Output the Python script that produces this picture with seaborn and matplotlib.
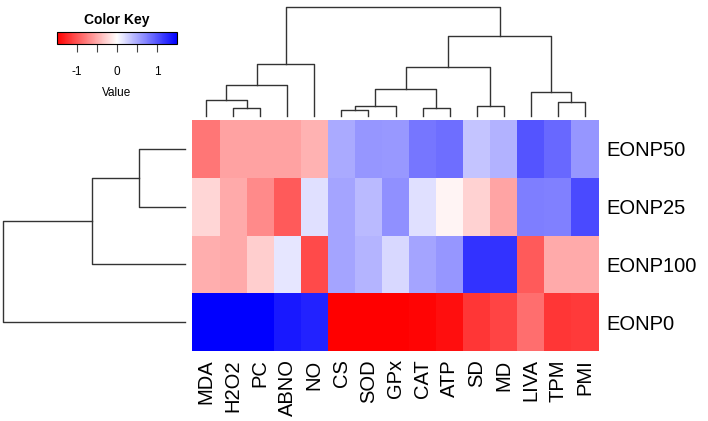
import numpy as np
import pandas as pd
import matplotlib
matplotlib.use('Agg')
import matplotlib.pyplot as plt
import seaborn as sns

plt.rcParams['font.family'] = ['Liberation Sans', 'DejaVu Sans']

# rows / columns in the order shown (after clustering)
samples = ['EONP50', 'EONP25', 'EONP100', 'EONP0']
markers = ['MDA', 'H2O2', 'PC', 'ABNO', 'NO', 'CS', 'SOD', 'GPx', 'CAT', 'ATP',
           'SD', 'MD', 'LIVA', 'TPM', 'PMI']

# column-scaled values
eonp50 = [-0.80, -0.55, -0.55, -0.55, -0.45, 0.50, 0.62, 0.60, 0.80, 0.85,
          0.35, 0.45, 1.00, 0.88, 0.62]
eonp25 = [-0.24, -0.50, -0.68, -0.97, 0.18, 0.53, 0.41, 0.65, 0.18, -0.06,
          -0.26, -0.53, 0.76, 0.74, 1.06]
eonp100 = [-0.47, -0.50, -0.29, 0.15, -1.06, 0.53, 0.44, 0.23, 0.53, 0.62,
           1.20, 1.20, -0.97, -0.50, -0.50]
eonp0 = [1.50, 1.50, 1.50, 1.35, 1.30, -1.50, -1.50, -1.50, -1.47, -1.41,
         -1.18, -1.09, -0.85, -1.18, -1.15]

# dendrogram merges: (node a, node b, height); node ids >= n are earlier merges
col_merges = [(1, 2, 23), (0, 15, 49), (16, 3, 93), (17, 4, 155),
              (5, 6, 18), (19, 7, 30), (8, 9, 25), (20, 21, 80),
              (10, 11, 31), (22, 23, 146), (13, 14, 41), (12, 25, 72),
              (24, 26, 241), (18, 27, 328)]
row_merges = [(0, 1, 138), (4, 2, 279), (5, 3, 546)]

df = pd.DataFrame([eonp50, eonp25, eonp100, eonp0], index=samples, columns=markers)


def draw_dendro(ax, n, merges, vertical=True):
    pos = {i: i + 0.5 for i in range(n)}
    hgt = {i: 0 for i in range(n)}
    for k, (a, b, h) in enumerate(merges):
        xs = [pos[a], pos[a], pos[b], pos[b]]
        ys = [hgt[a], h, h, hgt[b]]
        if vertical:
            ax.plot(xs, ys, color='#333333', lw=1, clip_on=False)
        else:
            ax.plot(ys, xs, color='#333333', lw=1, clip_on=False)
        pos[n + k] = (pos[a] + pos[b]) / 2
        hgt[n + k] = h
    ax.axis('off')


W, H = 708, 421
fig = plt.figure(figsize=(W / 100, H / 100), dpi=100)


def px_axes(x0, y0, x1, y1):
    return fig.add_axes([x0 / W, 1 - y1 / H, (x1 - x0) / W, (y1 - y0) / H])


ax_heat = px_axes(192.5, 120, 598.5, 351)
ax_col = px_axes(192.5, 7, 598.5, 116)
ax_row = px_axes(3, 120, 185, 351)
ax_key = px_axes(57, 32, 177, 44)

sns.heatmap(df, cmap='bwr_r', vmin=-1.5, vmax=1.5, ax=ax_heat, cbar_ax=ax_key,
            cbar_kws={'orientation': 'horizontal', 'ticks': [-1, -0.5, 0, 0.5, 1]})

ax_heat.yaxis.tick_right()
ax_heat.tick_params(axis='y', length=0, pad=6, labelsize=14.5, labelrotation=0)
ax_heat.tick_params(axis='x', length=0, pad=6, labelsize=14.5, labelrotation=90)
ax_heat.set_xlabel('')
ax_heat.set_ylabel('')

# color key
cbar = ax_heat.collections[0].colorbar
cbar.outline.set_linewidth(0.8)
ax_key.set_xticklabels(['-1', '', '0', '', '1'])
ax_key.tick_params(axis='x', length=6, width=0.8, color='#444444', pad=10, labelsize=8.5)
ax_key.set_xlabel('Value', fontsize=8.5, labelpad=6)
ax_key.set_title('Color Key', fontsize=10, fontweight='bold', pad=6)

# dendrograms
ax_col.set_xlim(0, len(markers))
ax_col.set_ylim(0, 328)
draw_dendro(ax_col, len(markers), col_merges, vertical=True)

ax_row.set_ylim(len(samples), 0)
ax_row.set_xlim(546, 0)
draw_dendro(ax_row, len(samples), row_merges, vertical=False)

plt.savefig('out.png', dpi=100)
